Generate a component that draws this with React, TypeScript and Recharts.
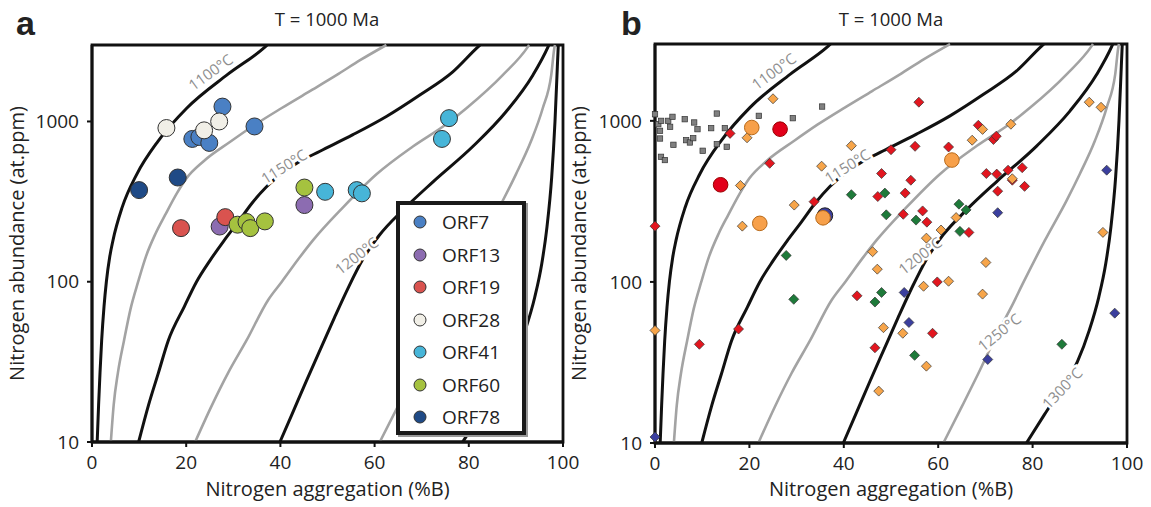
import React from "react";
import {
  ComposedChart,
  Line,
  Scatter,
  XAxis,
  YAxis,
  ReferenceArea
} from "recharts";

const FONT = "'Open Sans', 'Noto Sans', sans-serif";
const BLACK = "#111";
const GREY = "#a3a3a3";

const X_TICKS = [0, 20, 40, 60, 80, 100];
const Y_TICKS = [10, 100, 1000];

// isotherms for T = 1000 Ma, [%B, at.ppm]
const iso1100 = [[1.1, 10], [1.4, 17], [1.7, 27], [2.05, 43], [2.55, 70], [3.05, 100], [3.75, 142], [4.45, 181], [6.4, 291], [9.5, 468], [14, 752], [20.1, 1209], [28.6, 1945], [36.7, 2910], [37.2, 3000]];
const iso1125 = [[4.0, 10], [4.6, 17], [5.5, 27], [6.8, 43], [8.2, 68], [9.8, 100], [11.5, 145], [13.5, 200], [15.5, 260], [18.1, 360], [20, 440], [23.7, 565], [29.5, 752], [34.5, 950], [40.2, 1209], [46, 1530], [51.9, 1945], [57, 2420], [62.5, 3000]];
const iso1150 = [[9.9, 10], [12, 17], [14.1, 27], [16.2, 43], [19.6, 70], [22.2, 100], [25, 135], [28, 180], [31, 235], [34, 310], [37, 390], [40.6, 480], [44, 560], [48.4, 652], [55.4, 827], [62.5, 1074], [69.6, 1462], [76.6, 2040], [81.9, 2910], [82.4, 3000]];
const iso1175 = [[21.9, 10], [25.4, 16.8], [28.9, 27], [32.8, 43], [37.4, 77], [40.3, 100], [44.1, 142], [46.9, 181], [53.3, 291], [60.4, 468], [68.2, 700], [75.2, 960], [79.5, 1209], [87.2, 1945], [92.5, 2910], [92.8, 3000]];
const iso1200 = [[39.9, 10], [42.5, 15], [45.5, 24], [48.5, 38], [51.5, 60], [54.5, 93], [57.5, 138], [61, 195], [66, 280], [72.4, 420], [80.9, 700], [87.9, 1150], [93.6, 1945], [96.8, 2910], [97, 3000]];
const iso1225 = [[61.1, 10], [65, 16.8], [68.5, 27], [72.7, 49], [75.5, 70], [78.1, 100], [82.6, 181], [87.2, 320], [90, 468], [93.2, 752], [95.7, 1209], [97.5, 1945], [98.2, 2910], [98.3, 3000]];
const iso1250 = [[78.7, 10], [82.5, 15], [86.2, 22], [89.5, 32], [92, 50], [94, 80], [95.5, 130], [96.6, 220], [97.6, 450], [98.3, 1000], [98.8, 2200], [99, 3000]];

const isoLabels = [
  { x: 25.1, y: 2042, text: "1100°C", angle: -36 },
  { x: 40.7, y: 527, text: "1150°C", angle: -32 },
  { x: 56.1, y: 146, text: "1200°C", angle: -38 },
  { x: 72.9, y: 49, text: "1250°C", angle: -39 },
  { x: 86.2, y: 22, text: "1300°C", angle: -46 }
];

// panel a samples
const orf7 = [[27.7, 1238], [34.5, 931], [21.3, 778], [22.8, 800], [24.9, 735]];
const orf13 = [[27.1, 221], [45.1, 301]];
const orf19 = [[18.9, 216], [28.3, 253]];
const orf28 = [[15.8, 910], [23.8, 880], [27.0, 1000]];
const orf41 = [[49.5, 364], [56.2, 373], [57.3, 356], [75.8, 1049], [74.3, 778]];
const orf60 = [[45.1, 387], [30.9, 227], [32.8, 236], [33.6, 216], [36.7, 238]];
const orf78 = [[10, 373], [18.2, 447]];

const orfNames = ["ORF7", "ORF13", "ORF19", "ORF28", "ORF41", "ORF60", "ORF78"];
const orfColors = ["#4a80c4", "#8c6cb1", "#d9534f", "#f1efe7", "#47b5d8", "#a5c23f", "#1f4a86"];

// panel b samples
const greySquares = [[0, 1099], [0.7, 954], [1.3, 1000], [1.06, 867], [2.8, 1000], [3.7, 1059], [3.2, 918], [1.06, 777], [3.9, 710], [1.27, 598], [2.1, 571], [6.3, 1024], [8.3, 977], [9.0, 888], [6.6, 759], [7.4, 734], [8.1, 781], [10.1, 652], [11.9, 901], [13.1, 1110], [13.1, 717], [14.8, 901], [15.2, 690], [22.0, 1074], [29.2, 1039], [35.4, 1227]];
const greenDiamonds = [[41.6, 348], [48.7, 356], [49, 261], [55.3, 242], [64.4, 304], [65.9, 280], [64.6, 206], [27.8, 146], [29.4, 78], [48, 86], [46.6, 75], [55, 35], [86.2, 41]];
const blueDiamonds = [[72.6, 269], [95.7, 494], [52.8, 86], [53.8, 56], [70.5, 33], [97.4, 64], [0, 10.9]];
const redDiamonds = [[15.9, 836], [55.9, 1306], [24.3, 545], [50, 662], [55.1, 695], [62.2, 688], [68.5, 939], [71.7, 766], [72.3, 803], [48, 471], [54.2, 428], [70.2, 471], [72.4, 467], [74.8, 494], [77.8, 512], [75.7, 428], [78.3, 392], [72.6, 366], [47.2, 339], [53, 356], [33.7, 315], [52.6, 263], [56.7, 276], [57.6, 235], [66.5, 203], [0, 222], [42.8, 82], [59.8, 100], [17.7, 51], [9.4, 41], [46.6, 39], [58.8, 48]];
const orangeDiamonds = [[25.0, 1371], [19.5, 785], [18.1, 397], [29.5, 300], [18.5, 222], [35.3, 523], [41.6, 701], [67.2, 758], [69.4, 885], [75.4, 953], [75.7, 437], [92.0, 1306], [94.5, 1214], [94.9, 203], [57.5, 187], [60.6, 210], [63.8, 251], [46.1, 154], [47.1, 120], [70.1, 132], [56.9, 94], [62.2, 101], [69.4, 84], [48.4, 52], [52.5, 48], [57.5, 30], [47.4, 21], [0, 50]];
const blueCircles = [[36.0, 258]];
const orangeCircles = [[20.5, 909], [22.2, 231], [62.9, 571], [35.6, 250]];
const redCircles = [[26.5, 888], [13.9, 401]];

const toPts = (a: number[][]) => a.map(([x, y]) => ({ x, y }));

const isotherms = [
  { pts: iso1100, color: BLACK },
  { pts: iso1125, color: GREY },
  { pts: iso1150, color: BLACK },
  { pts: iso1175, color: GREY },
  { pts: iso1200, color: BLACK },
  { pts: iso1225, color: GREY },
  { pts: iso1250, color: BLACK }
];

const circle = (fill: string, r: number, stroke = "#333") => (p: any) =>
  <circle cx={p.cx} cy={p.cy} r={r} fill={fill} stroke={stroke} strokeWidth={1} />;

const diamond = (fill: string) => (p: any) => {
  const s = 5;
  return (
    <path
      d={`M${p.cx},${p.cy - s}L${p.cx + s},${p.cy}L${p.cx},${p.cy + s}L${p.cx - s},${p.cy}Z`}
      fill={fill}
      stroke="#333"
      strokeWidth={0.7}
    />
  );
};

const square = (p: any) =>
  <rect x={p.cx - 2.7} y={p.cy - 2.7} width={5.4} height={5.4} fill="#808080" stroke="#333" strokeWidth={0.7} />;

const isoLabel = (p: any) => (
  <text
    x={p.cx}
    y={p.cy}
    transform={`rotate(${p.payload.angle} ${p.cx} ${p.cy})`}
    textAnchor="middle"
    dominantBaseline="central"
    fontFamily={FONT}
    fontSize={15}
    fill="#8e8e8e"
    stroke="#fff"
    strokeWidth={5}
    paintOrder="stroke"
  >
    {p.payload.text}
  </text>
);

function OrfLegend() {
  return (
    <div
      style={{
        position: "absolute",
        left: 396,
        top: 201,
        width: 122,
        height: 226,
        border: "4px solid #1a1a1a",
        boxShadow: "2px 2px 0 #999",
        background: "#fff"
      }}
    >
      {orfNames.map((n, i) => (
        <div
          key={n}
          style={{
            position: "absolute",
            left: 0,
            top: 17 + i * 32.5 - 14,
            height: 28,
            display: "flex",
            alignItems: "center",
            fontFamily: FONT,
            fontSize: 19,
            color: "#222"
          }}
        >
          <svg width={42} height={20}>
            <circle cx={20} cy={10} r={6} fill={orfColors[i]} stroke="#333" strokeWidth={1} />
          </svg>
          <span>{n}</span>
        </div>
      ))}
    </div>
  );
}

function Panel(props: {
  width: number;
  yAxisWidth: number;
  margin: any;
  titleOffset: number;
  xTitleOffset: number;
  children: any;
}) {
  const { width, yAxisWidth, margin, titleOffset, xTitleOffset } = props;
  return (
    <ComposedChart width={width} height={507} margin={margin}>
      <XAxis
        type="number"
        dataKey="x"
        domain={[0, 100]}
        ticks={X_TICKS}
        height={60}
        tickSize={5}
        tickMargin={9}
        axisLine={{ stroke: BLACK, strokeWidth: 2.8 }}
        tickLine={{ stroke: BLACK, strokeWidth: 2 }}
        tick={{ fontSize: 19, fill: "#222", fontFamily: FONT }}
        label={{
          value: "Nitrogen aggregation (%B)",
          position: "insideBottom",
          offset: xTitleOffset,
          style: { fontSize: 20, fill: "#222", fontFamily: FONT }
        }}
      />
      <YAxis
        type="number"
        dataKey="y"
        scale="log"
        domain={[10, 3000]}
        ticks={Y_TICKS}
        width={yAxisWidth}
        tickSize={5}
        tickMargin={8}
        axisLine={{ stroke: BLACK, strokeWidth: 2.8 }}
        tickLine={{ stroke: BLACK, strokeWidth: 2 }}
        tick={{ fontSize: 19, fill: "#222", fontFamily: FONT }}
        label={{
          value: "Nitrogen abundance (at.ppm)",
          angle: -90,
          position: "insideLeft",
          offset: titleOffset,
          style: { fontSize: 20, fill: "#222", fontFamily: FONT, textAnchor: "middle" }
        }}
      />
      <ReferenceArea x1={0} x2={100} y1={10} y2={3000} fill="none" stroke={BLACK} strokeWidth={2.8} fillOpacity={0} />
      {isotherms.map((c, i) => (
        <Line
          key={"iso" + i}
          data={toPts(c.pts)}
          dataKey="y"
          type="monotone"
          stroke={c.color}
          strokeWidth={c.color === BLACK ? 3 : 2.6}
          dot={false}
          activeDot={false}
          isAnimationActive={false}
        />
      ))}
      <Scatter data={isoLabels} shape={isoLabel} isAnimationActive={false} />
      {props.children}
    </ComposedChart>
  );
}

const textStyle: any = { position: "absolute", fontFamily: FONT, color: "#222" };

export default function App() {
  const aSeries = [orf7, orf13, orf19, orf28, orf41, orf60, orf78].map((d, i) => (
    <Scatter
      key={orfNames[i]}
      name={orfNames[i]}
      data={toPts(d)}
      shape={circle(orfColors[i], 8.5)}
      isAnimationActive={false}
    />
  ));
  const bSeries = [
    <Scatter key="sq" data={toPts(greySquares)} shape={square} isAnimationActive={false} />,
    <Scatter key="gd" data={toPts(greenDiamonds)} shape={diamond("#1e7a3a")} isAnimationActive={false} />,
    <Scatter key="bd" data={toPts(blueDiamonds)} shape={diamond("#3b3f9e")} isAnimationActive={false} />,
    <Scatter key="rd" data={toPts(redDiamonds)} shape={diamond("#e2161f")} isAnimationActive={false} />,
    <Scatter key="od" data={toPts(orangeDiamonds)} shape={diamond("#f7a54a")} isAnimationActive={false} />,
    <Scatter key="bc" data={toPts(blueCircles)} shape={circle("#3b3f9e", 7.8, "#222")} isAnimationActive={false} />,
    <Scatter key="oc" data={toPts(orangeCircles)} shape={circle("#f7a04a", 7.3, "#b86a1a")} isAnimationActive={false} />,
    <Scatter key="rc" data={toPts(redCircles)} shape={circle("#e2001a", 7.3, "#900")} isAnimationActive={false} />
  ];

  return (
    <div style={{ position: "absolute", left: 0, top: 0, width: 1151, height: 507, background: "#fff" }}>
      <div style={{ position: "absolute", left: 0, top: 0 }}>
        <Panel
          width={592}
          yAxisWidth={92}
          margin={{ top: 45, right: 29, bottom: 5, left: 0 }}
          titleOffset={17}
          xTitleOffset={6}
        >
          {aSeries}
        </Panel>
      </div>
      <OrfLegend />
      <div style={{ position: "absolute", left: 560, top: 0 }}>
        <Panel
          width={591}
          yAxisWidth={95}
          margin={{ top: 44, right: 24, bottom: 4, left: 0 }}
          titleOffset={19}
          xTitleOffset={7}
        >
          {bSeries}
        </Panel>
      </div>
      <div style={{ ...textStyle, left: 227, width: 200, top: 6, textAlign: "center", fontSize: 18.5, lineHeight: "26px" }}>T = 1000 Ma</div>
      <div style={{ ...textStyle, left: 791, width: 200, top: 6, textAlign: "center", fontSize: 18.5, lineHeight: "26px" }}>T = 1000 Ma</div>
      <div style={{ ...textStyle, left: 16, top: 6, fontSize: 34, fontWeight: 700, fontFamily: "'Liberation Sans', Arial, sans-serif", lineHeight: "34px" }}>a</div>
      <div style={{ ...textStyle, left: 621, top: 6, fontSize: 34, fontWeight: 700, fontFamily: "'Liberation Sans', Arial, sans-serif", lineHeight: "34px" }}>b</div>
    </div>
  );
}
